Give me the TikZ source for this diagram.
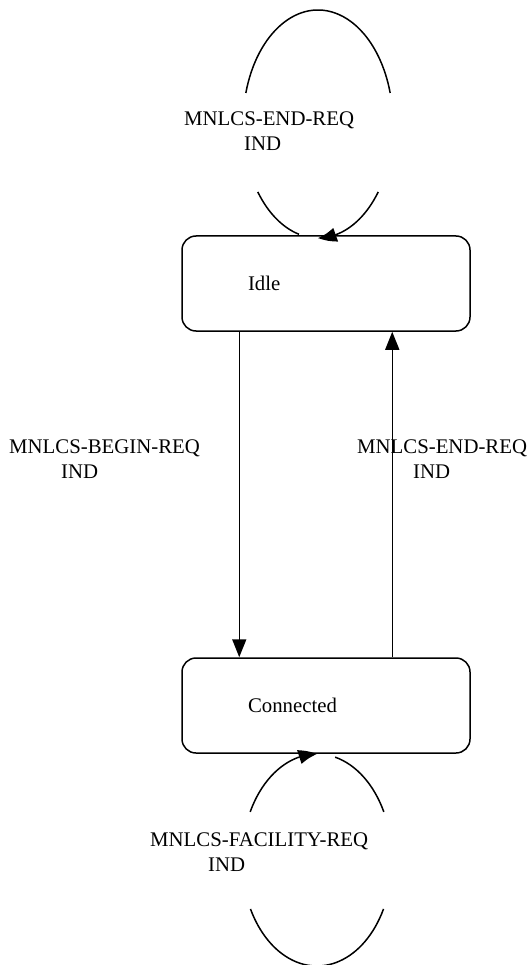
\documentclass[tikz,border=0pt]{standalone}
\usepackage{fontspec}
\setmainfont{Liberation Serif}
\usetikzlibrary{arrows.meta,bending}
\begin{document}
\begin{tikzpicture}[x=1pt,y=-1pt,
  every node/.style={font=\fontsize{20.8}{25}\selectfont},
  statebox/.style={draw, line width=1.5pt, rounded corners=14pt, minimum width=288pt, minimum height=95pt, text width=156pt, align=left, inner sep=0pt},
  lbl/.style={anchor=base west, align=left, inner sep=0pt},
  trans/.style={line width=1.5pt, -{Triangle[length=18pt,width=14pt]}},
  loopline/.style={line width=1.5pt},
  looparrow/.style={line width=1.5pt, -{Triangle[length=18pt,width=14pt,bend]}}]
\useasboundingbox (0,0) rectangle (531,965);

% states
\node[statebox] (idle) at (326,283.5) {Idle};
\node[statebox] (connd) at (326,705.5) {Connected};

% transitions between states
\draw[trans] ([xshift=58pt]idle.south west) -- ([xshift=58pt]connd.north west);
\draw[trans] ([xshift=211pt]connd.north west) -- ([xshift=211pt]idle.south west);

% labels (base anchor = baseline of the last line)
\node[lbl] (ltop) at (184,151) {MNLCS-END-REQ\\\hspace*{60pt}IND};
\node[lbl] (lleft) at (9,478) {MNLCS-BEGIN-REQ\\\hspace*{52pt}IND};
\node[lbl] (lright) at (357,478) {MNLCS-END-REQ\\\hspace*{56pt}IND};
\node[lbl] (lbot) at (150,871) {MNLCS-FACILITY-REQ\\\hspace*{58pt}IND};

% self loop on Idle
\draw[loopline] (318,124) ++(195.8:75 and 114) arc[start angle=195.8, end angle=344.2, x radius=75, y radius=114];
\draw[loopline] (318,124) ++(143.4:75 and 114) arc[start angle=143.4, end angle=104.7, x radius=75, y radius=114];
\draw[looparrow] (318,124) ++(36.6:75 and 114) arc[start angle=36.6, end angle=90, x radius=75, y radius=114];

% self loop on Connected
\draw[looparrow] (317,860) ++(207:75 and 106) arc[start angle=207, end angle=270, x radius=75, y radius=106];
\draw[loopline] (317,860) ++(284:75 and 106) arc[start angle=284, end angle=333, x radius=75, y radius=106];
\draw[loopline] (317,860) ++(27.5:75 and 106) arc[start angle=27.5, end angle=152.5, x radius=75, y radius=106];
\end{tikzpicture}
\end{document}
